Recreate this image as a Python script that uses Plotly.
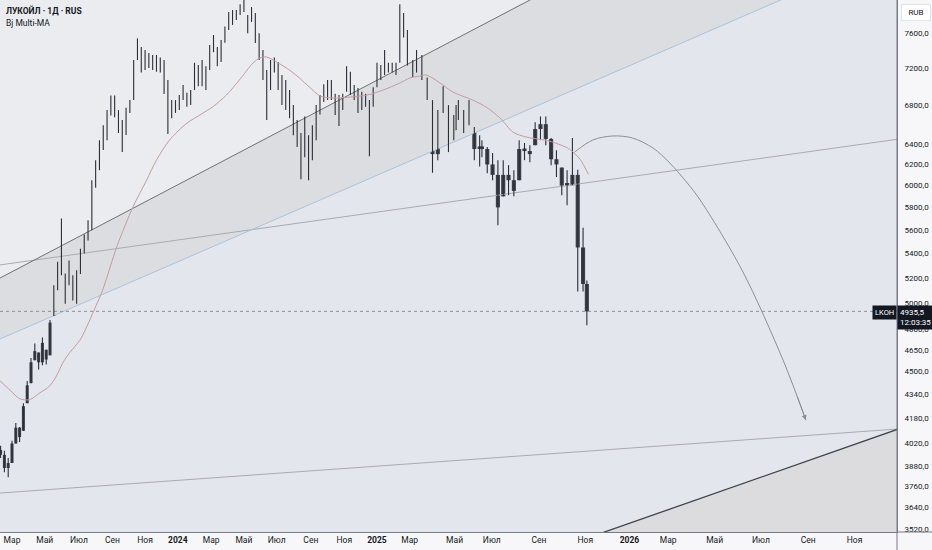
import math
import numpy as np
import pandas as pd
import plotly.graph_objects as go

# ---------------- text ----------------
TITLE = "ЛУКОЙЛ · 1Д · RUS"
INDICATOR = "Bj Multi-MA"
TICKER = "LKOH"
CURRENCY = "RUB"
LAST_PRICE = 4935.5
LAST_PRICE_TEXT = "4935,5"
COUNTDOWN = "12:03:35"

# ---------------- weekly price bars (one per week, dated on Wednesday) ----------------
FIRST_WEEK = "2023-02-08"
FIRST_OPEN = 3980
HIGH = [
    4006, 3975, 3930, 4038, 4150, 4125, 4280, 4430, 4590, 4695,
    4630, 4740, 4650, 4870, 5140, 5330, 5700, 5235, 5340, 5220,
    5260, 5440, 5560, 5685, 6050, 6240, 6438, 6590, 6746, 6900,
    6900, 6746, 6642, 6770, 6851, 7291, 7540, 7440, 7405, 7370,
    7348, 7348, 7320, 7291, 7068, 6851, 6851, 6905, 7013, 6930,
    6959, 7260, 7234, 7291, 7220, 7463, 7580, 7440, 7521, 7680,
    7855, 7880, 7880, 7950, 8060, 7819, 7915, 7843, 7600, 7405,
    7178, 7291, 7320, 7270, 7123, 7068, 6959, 6798, 6642, 6510,
    6680, 6488, 6590, 6798, 6905, 7023, 7068, 7068, 6920, 6905,
    6920, 7220, 7160, 7013, 6980, 6940, 6920, 6851, 6990, 7260,
    7234, 7405, 7260, 7260, 7260, 7950, 7843, 7640,
    7291, 7405, 7348, 7095, 6851, 6746, 7000, 6798, 6694, 6798,
    6851, 6746, 6851, 6570, 6488, 6438, 6370, 6310, 6241, 6241,
    6193, 6145, 6438, 6410, 6388, 6620, 6680, 6680, 6460, 6339,
    6170, 6145, 6460, 6150, 5620, 5178,
]
LOW = [
    3930, 3845, 3815, 3900, 4020, 4030, 4100, 4280, 4415, 4575,
    4510, 4540, 4545, 4610, 4900, 5100, 5220, 4995, 5140, 5020,
    4995, 5230, 5400, 5510, 5597, 5980, 6145, 6340, 6438, 6690,
    6670, 6510, 6320, 6490, 6716, 6851, 7290, 7150, 7178, 7200,
    7178, 7160, 7150, 6915, 6500, 6660, 6716, 6746, 6851, 6780,
    6798, 6959, 7000, 7000, 6959, 7178, 7380, 7220, 7270, 7490,
    7639, 7699, 7759, 7819, 7855, 7600, 7735, 7485, 7291, 7068,
    6642, 6959, 7150, 6959, 6798, 6746, 6660, 6488, 6370, 6060,
    6270, 6050, 6241, 6438, 6700, 6830, 6851, 6851, 6694, 6580,
    6746, 6940, 6905, 6851, 6716, 6746, 6780, 6280, 6780, 6990,
    7068, 7123, 7150, 7150, 7123, 7260, 7550, 7230,
    7100, 7150, 7068, 6851, 6120, 6241, 6716, 6320, 6438, 6539,
    6642, 6510, 6590, 6241, 6180, 6270, 6115, 6050, 5641, 5900,
    5911, 5900, 6050, 6241, 6220, 6388, 6438, 6388, 6193, 6080,
    5911, 5820, 6003, 5090, 5090, 4830,
]
CLOSE = [
    3950, 3870, 3900, 4020, 4120, 4060, 4260, 4400, 4560, 4640,
    4560, 4700, 4580, 4850, 5100, 5280, 5300, 5050, 5300, 5060,
    5250, 5420, 5520, 5650, 6000, 6200, 6350, 6550, 6700, 6850,
    6720, 6600, 6450, 6740, 6820, 7250, 7450, 7250, 7350, 7280,
    7260, 7300, 7200, 6950, 6780, 6760, 6800, 6880, 6900, 6850,
    6950, 7200, 7150, 7100, 7180, 7420, 7450, 7300, 7480, 7640,
    7800, 7840, 7820, 7930, 7900, 7700, 7850, 7550, 7350, 7100,
    6800, 7250, 7200, 7000, 6900, 6800, 6750, 6550, 6450, 6200,
    6600, 6200, 6500, 6750, 6850, 6950, 6980, 6900, 6800, 6720,
    6880, 7150, 6980, 6920, 6800, 6880, 6850, 6780, 6960, 7200,
    7150, 7200, 7200, 7180, 7200, 7800, 7650, 7350,
    7200, 7300, 7150, 6900, 6300, 6650, 6800, 6500, 6600, 6700,
    6750, 6620, 6700, 6350, 6350, 6350, 6200, 6100, 5800, 6100,
    6050, 5950, 6350, 6330, 6300, 6550, 6600, 6450, 6250, 6200,
    6000, 6000, 6100, 5450, 5150, 4935.5,
]

# ---------------- moving average (Bj Multi-MA) ----------------
MA_DATES = [
    "2023-02-07", "2023-02-27", "2023-03-15", "2023-04-03", "2023-04-21", "2023-05-05",
    "2023-05-15", "2023-05-24", "2023-06-02", "2023-06-15", "2023-07-04", "2023-07-13",
    "2023-07-27", "2023-08-15", "2023-09-11", "2023-10-10", "2023-11-03", "2023-11-22",
    "2023-12-15", "2024-01-17", "2024-02-09", "2024-03-05", "2024-03-29", "2024-04-23",
    "2024-05-17", "2024-05-30", "2024-06-12", "2024-07-01", "2024-07-24", "2024-08-12",
    "2024-08-29", "2024-09-18", "2024-10-11", "2024-11-13", "2024-12-13", "2025-01-13",
    "2025-02-12", "2025-03-01", "2025-03-16", "2025-03-25", "2025-04-12", "2025-04-29",
    "2025-06-02", "2025-06-24", "2025-07-12", "2025-07-29", "2025-08-16", "2025-09-15",
    "2025-10-11", "2025-10-25", "2025-11-07",
]
MA_VALUES = [
    4432, 4364, 4310, 4303, 4350, 4384, 4418, 4480, 4559, 4630,
    4717, 4791, 4919, 5098, 5460, 5802, 6050, 6241, 6438, 6610,
    6694, 6780, 6905, 7068, 7257, 7314, 7325, 7268, 7178, 7090,
    6992, 6895, 6873, 6884, 6905, 6959, 7035, 7090, 7112, 7123,
    7035, 6937, 6851, 6775, 6663, 6518, 6468, 6428, 6349, 6250,
    6106,
]

# days without a bar once weekend sessions started (and projected holidays)
NON_TRADING = [
    "2025-03-08", "2025-03-09", "2025-05-01", "2025-05-02", "2025-05-03", "2025-05-04",
    "2025-05-08", "2025-05-09", "2025-05-10", "2025-05-11", "2025-06-12", "2025-06-13",
    "2025-06-14", "2025-06-15", "2025-11-03", "2025-11-04", "2025-12-31", "2026-01-01",
    "2026-01-02", "2026-01-03", "2026-01-04", "2026-01-05", "2026-01-06", "2026-01-07",
    "2026-01-08",
]

# ---------------- drawings (date, price) ----------------
CHANNEL_UPPER = [("2023-01-18", 5152), ("2025-09-08", 8097)]
CHANNEL_LOWER = [("2023-01-18", 4694), ("2026-11-01", 8411)]
TREND_UPPER = [("2023-01-18", 5292), ("2027-02-01", 6485)]
TREND_LOWER = [("2023-01-18", 3718), ("2026-12-29", 4112)]
TRIANGLE_EDGE = [("2025-09-08", 3391), ("2026-12-29", 4112)]
ARC_DATES = ["2025-10-18", "2025-11-13", "2025-12-09", "2026-01-13", "2026-02-09",
             "2026-03-03", "2026-03-26", "2026-04-12", "2026-06-06", "2026-07-30", "2026-08-29"]
ARC_PRICES = [6321, 6440, 6480, 6460, 6360, 6214, 6024, 5867, 5262, 4576, 4169]
ARROW_TAIL = ("2026-08-17", 4334)

Y_TICKS = [3520, 3640, 3760, 3880, 4020, 4180, 4340, 4500, 4650, 4800, 5000,
           5200, 5400, 5600, 5800, 6000, 6200, 6400, 6800, 7200, 7600]
MONTH_LABELS = {3: "Мар", 5: "Май", 7: "Июл", 9: "Сен", 11: "Ноя"}

# ---------------- bar-index calendar ----------------
pre = pd.bdate_range("2022-12-01", "2025-02-28")
post = pd.date_range("2025-03-01", "2027-06-30")
post = post[~post.isin(pd.to_datetime(NON_TRADING))]
CAL = pre.append(post)
ORIGIN = int(CAL.searchsorted(pd.Timestamp("2023-03-01")))


def bar_index(d):
    return int(CAL.searchsorted(pd.Timestamp(d))) - ORIGIN


# layout geometry
W, H = 932, 550
ML, MR, MT, MB = 0, 35, 0, 18
PX_PER_BAR = 0.7604
FIRST_TICK_PX = 12
plot_w = W - ML - MR
X_RANGE = [-FIRST_TICK_PX / PX_PER_BAR, (plot_w - FIRST_TICK_PX) / PX_PER_BAR]
Y_RANGE = [math.log10(3504), math.log10(8003)]

# ---------------- build ----------------
week_dates = pd.date_range(FIRST_WEEK, periods=len(CLOSE), freq="7D")
wx = np.array([bar_index(d) for d in week_dates], dtype=float)
hi = np.array(HIGH, float)
lo = np.array(LOW, float)
cl = np.array(CLOSE, float)
op = np.clip(np.array([FIRST_OPEN] + CLOSE[:-1], float), lo, hi)

fig = go.Figure()


def pts(lst):
    return [bar_index(d) for d, _ in lst], [p for _, p in lst]


def poly(points, color):
    xs, ys = pts(points)
    fig.add_trace(go.Scatter(x=xs + [xs[0]], y=ys + [ys[0]], mode="lines", fill="toself",
                             fillcolor=color, line=dict(width=0), hoverinfo="skip"))


def seg(points, color, width=1.0, dash=None):
    xs, ys = pts(points)
    fig.add_trace(go.Scatter(x=xs, y=ys, mode="lines", hoverinfo="skip",
                             line=dict(color=color, width=width, dash=dash)))


TOP = 9800
BOTTOM = 3000
poly(CHANNEL_UPPER + [(CHANNEL_UPPER[1][0], TOP), (CHANNEL_UPPER[0][0], TOP)], "#ebecef")
poly(CHANNEL_UPPER + [(CHANNEL_UPPER[1][0], TOP), (CHANNEL_LOWER[1][0], TOP)] + CHANNEL_LOWER[::-1], "#dcdde1")
poly(TRIANGLE_EDGE + [(TRIANGLE_EDGE[1][0], BOTTOM), (TRIANGLE_EDGE[0][0], BOTTOM)], "#dcdcdf")

seg(TREND_UPPER, "#a9abb0", 1)
seg(TREND_LOWER, "#a9abb0", 1)
seg(CHANNEL_UPPER, "#6e7178", 1)
seg(CHANNEL_LOWER, "#a9c3dc", 1)
seg(TRIANGLE_EDGE, "#41444b", 1.3)

# last price dotted line
fig.add_trace(go.Scatter(x=X_RANGE, y=[LAST_PRICE, LAST_PRICE], mode="lines", hoverinfo="skip",
                         line=dict(color="#8e9199", width=1, dash="dot")))

# arc
fig.add_trace(go.Scatter(x=[bar_index(d) for d in ARC_DATES], y=ARC_PRICES, mode="lines",
                         line=dict(color="#8c8f96", width=1, shape="spline", smoothing=0.9),
                         hoverinfo="skip"))

# price: wicks
wick_x, wick_y = [], []
for x, h, l in zip(wx, hi, lo):
    wick_x += [x, x, None]
    wick_y += [l, h, None]
fig.add_trace(go.Scatter(x=wick_x, y=wick_y, mode="lines", hoverinfo="skip",
                         line=dict(color="#2a2e37", width=1.1)))
# price: bodies
body_lo = np.minimum(op, cl)
body_h = np.maximum(np.abs(cl - op), cl * 0.004)
widths = np.where(week_dates < pd.Timestamp("2025-03-01"), 4.0, 5.4)
fig.add_trace(go.Bar(x=wx, base=body_lo, y=body_h, width=widths, opacity=0.9,
                     marker=dict(color="#2a2e37", line=dict(width=0)), hoverinfo="skip"))

# moving average
fig.add_trace(go.Scatter(x=[bar_index(d) for d in MA_DATES], y=MA_VALUES, mode="lines",
                         line=dict(color="#c39c9e", width=1, shape="spline", smoothing=0.8),
                         hoverinfo="skip"))

# ticks
tick_dates = pd.date_range("2023-03-01", "2026-11-01", freq="2MS")
tickvals = [bar_index(d) for d in tick_dates]
ticktext = [f"<b>{d.year}</b>" if d.month == 1 else MONTH_LABELS[d.month] for d in tick_dates]

axis_col = "#787b86"
fig.update_layout(
    width=W, height=H,
    margin=dict(l=ML, r=MR, t=MT, b=MB, pad=0),
    paper_bgcolor="#f7f7f9", plot_bgcolor="#e3e6ec",
    showlegend=False, barmode="overlay",
    font=dict(family="Roboto, Liberation Sans, sans-serif", color="#131722"),
    xaxis=dict(type="linear", range=X_RANGE, tickvals=tickvals, ticktext=ticktext,
               showgrid=False, zeroline=False, showline=True, linecolor=axis_col, linewidth=1,
               ticks="", tickfont=dict(size=8.5, color="#131722"), automargin=False,
               fixedrange=True),
    yaxis=dict(type="log", side="right", range=Y_RANGE, tickvals=Y_TICKS,
               ticktext=[f"{v},0" for v in Y_TICKS], showgrid=False, zeroline=False,
               showline=True, linecolor=axis_col, linewidth=1, ticks="",
               ticklabelstandoff=5, tickfont=dict(size=8, color="#131722"),
               automargin=False, fixedrange=True),
)

# axis extensions into the margins
fig.add_shape(type="line", xref="paper", yref="paper", x0=1, x1=1, y0=-MB / (H - MT - MB), y1=1,
              line=dict(color=axis_col, width=1))
fig.add_shape(type="line", xref="paper", yref="paper", x0=1, x1=1 + MR / plot_w, y0=0, y1=0,
              line=dict(color=axis_col, width=1))

ann = []
ann.append(dict(xref="paper", yref="paper", x=0, y=1, xanchor="left", yanchor="top",
                xshift=4, yshift=-3, showarrow=False, text=f"<b>{TITLE}</b>",
                font=dict(size=8.5, color="#131722")))
ann.append(dict(xref="paper", yref="paper", x=0, y=1, xanchor="left", yanchor="top",
                xshift=4, yshift=-16, showarrow=False, text=INDICATOR,
                font=dict(size=8.5, color="#131722")))
ann.append(dict(xref="paper", yref="paper", x=1, y=1, xanchor="left", yanchor="top",
                xshift=4, yshift=-4, showarrow=False, text=CURRENCY, bgcolor="#ffffff",
                bordercolor="#e0e3eb", borderwidth=1, borderpad=3, width=22,
                font=dict(size=8, color="#131722")))
ann.append(dict(xref="paper", yref="y", x=1, y=math.log10(LAST_PRICE), xanchor="left",
                yanchor="middle", yshift=-6, showarrow=False, align="left",
                text=f"{LAST_PRICE_TEXT}<br>{COUNTDOWN}", bgcolor="#131722", borderpad=2,
                width=31, font=dict(size=8, color="#ffffff")))
ann.append(dict(xref="paper", yref="y", x=1, y=math.log10(LAST_PRICE), xanchor="right",
                yanchor="middle", yshift=-1, showarrow=False, text=TICKER, bgcolor="#131722",
                borderpad=2, font=dict(size=7.5, color="#ffffff")))
ann.append(dict(xref="x", yref="y", x=bar_index(ARC_DATES[-1]), y=math.log10(ARC_PRICES[-1]),
                axref="x", ayref="y", ax=bar_index(ARROW_TAIL[0]), ay=math.log10(ARROW_TAIL[1]),
                showarrow=True, arrowhead=2, arrowsize=1, arrowwidth=1, arrowcolor="#8c8f96",
                text=""))
fig.update_layout(annotations=ann)

fig.write_html("out.html", config={"displayModeBar": False},
               post_script="document.body.style.margin='0';document.body.style.overflow='hidden';")
